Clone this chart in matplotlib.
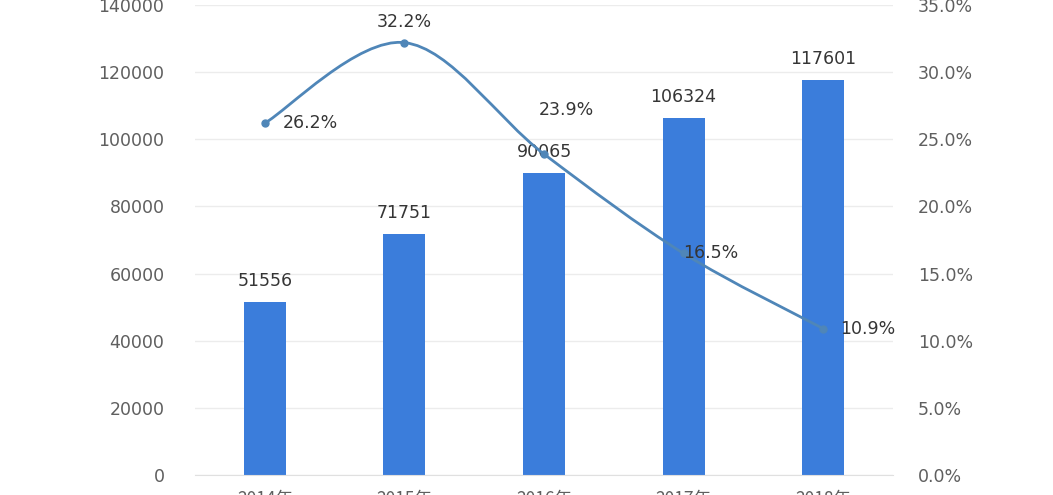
import numpy as np
import matplotlib
matplotlib.use("Agg")
import matplotlib.pyplot as plt
from matplotlib.path import Path
from matplotlib.patches import PathPatch

plt.rcParams['font.family'] = ['DejaVu Sans', 'Noto Sans CJK SC']

# data
years = ['2014年', '2015年', '2016年', '2017年', '2018年']
amounts = [51556, 71751, 90065, 106324, 117601]
growth = [26.2, 32.2, 23.9, 16.5, 10.9]

bar_color = '#3b7ddb'
line_color = '#4f86b8'
text_color = '#353535'
tick_color = '#5f5f5f'
grid_color = '#ececec'

fig = plt.figure(figsize=(10.53, 4.95), dpi=100)
ax = fig.add_axes([195 / 1053, 20 / 495, 698 / 1053, 470 / 495])
ax2 = ax.twinx()

x = np.arange(len(years))
ax.bar(x, amounts, width=0.3, color=bar_color, zorder=2)
ax.set_xlim(-0.5, len(years) - 0.5)
ax.set_ylim(0, 140000)
ax.set_yticks(np.arange(0, 140001, 20000))
ax.set_xticks(x)
ax.set_xticklabels(years, family=['Noto Sans CJK SC', 'DejaVu Sans'])
ax.grid(axis='y', color=grid_color, linewidth=1, zorder=0)
ax.set_axisbelow(True)

for xi, v in zip(x, amounts):
    ax.text(xi, v + 3500, f'{v}', ha='center', va='bottom',
            fontsize=12.5, color=text_color, zorder=4)

# smoothed line (Catmull-Rom style bezier through the data points)
pts = np.column_stack([x, growth]).astype(float)
verts = [tuple(pts[0])]
codes = [Path.MOVETO]
n = len(pts)
for i in range(n - 1):
    p0 = pts[i - 1] if i > 0 else pts[i]
    p1 = pts[i]
    p2 = pts[i + 1]
    p3 = pts[i + 2] if i + 2 < n else pts[i + 1]
    c1 = p1 + (p2 - p0) / 6
    c2 = p2 - (p3 - p1) / 6
    verts += [tuple(c1), tuple(c2), tuple(p2)]
    codes += [Path.CURVE4] * 3
ax2.add_patch(PathPatch(Path(verts, codes), facecolor='none',
                        edgecolor=line_color, linewidth=2, zorder=3))
ax2.plot(x, growth, 'o', color=line_color, markersize=5, zorder=3)
ax2.set_ylim(0, 35)
ax2.set_yticks(np.arange(0, 35.1, 5))
ax2.set_yticklabels([f'{t:.1f}%' for t in np.arange(0, 35.1, 5)])

offsets = [(0.13, 0, 'left', 'center'),
           (0, 0.9, 'center', 'bottom'),
           (0.16, 2.6, 'center', 'bottom'),
           (0.0, 0, 'left', 'center'),
           (0.12, 0, 'left', 'center')]
for xi, v, (dx, dy, ha, va) in zip(x, growth, offsets):
    ax2.text(xi + dx, v + dy, f'{v}%', ha=ha, va=va,
             fontsize=12.5, color=text_color, zorder=4)

for a in (ax, ax2):
    for s in a.spines.values():
        s.set_visible(False)
    a.tick_params(length=0, labelsize=12.5, colors=tick_color)
ax.tick_params(axis='y', pad=22)
ax2.tick_params(axis='y', pad=18)
ax.tick_params(axis='x', pad=11)
ax.spines['bottom'].set_visible(True)
ax.spines['bottom'].set_color('#e0e0e0')

fig.savefig('out.png', dpi=100)
